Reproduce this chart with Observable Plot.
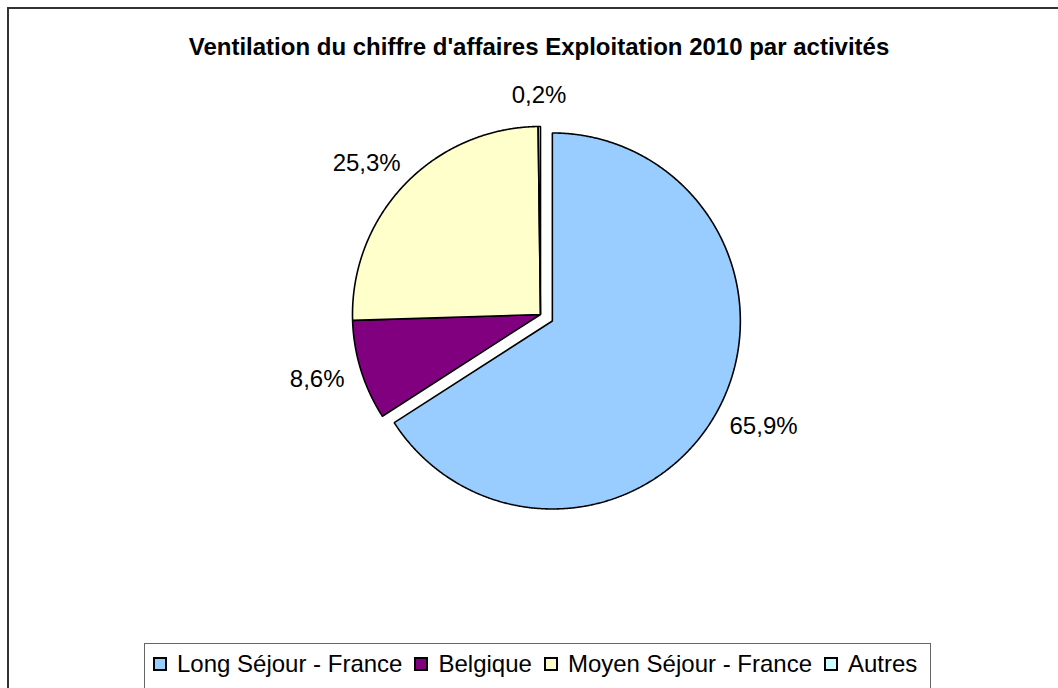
<!DOCTYPE html>
<html>
<head>
<meta charset="utf-8">
<script src="https://cdn.jsdelivr.net/npm/d3@7"></script>
<script src="https://cdn.jsdelivr.net/npm/@observablehq/plot@0.6"></script>
<style>
html, body { margin: 0; padding: 0; background: #fff; overflow: hidden; }
#root { position: relative; width: 1058px; height: 688px; overflow: hidden; font-family: "Liberation Sans", Arial, sans-serif; color: #000; }
#frame { position: absolute; left: 7px; top: 7px; width: 1100px; height: 760px; border: 2px solid #333; box-sizing: border-box; }
#title { position: absolute; left: 0; width: 1078px; top: 35px; text-align: center; font-weight: bold; font-size: 24px; line-height: 24px; white-space: nowrap; }
#chart { position: absolute; left: 240px; top: 64px; }
#legend { position: absolute; left: 144px; top: 643px; width: 787px; height: 70px; border: 1px solid #666; box-sizing: border-box; background: #fff;
  padding: 8px 0 0 8px; display: flex; flex-direction: row; align-items: flex-start; font-size: 24px; line-height: 24px; white-space: nowrap; }
#legend .item { display: flex; align-items: center; height: 24px; margin-right: 12px; }
#legend .sw { width: 14px; height: 14px; box-sizing: border-box; border: 2px solid #000; margin-right: 10px; flex: none; }
</style>
</head>
<body>
<div id="root">
  <div id="frame"></div>
  <div id="title"></div>
  <div id="chart"></div>
  <div id="legend"></div>
</div>
<script>
// ---- data ----
const titleText = "Ventilation du chiffre d'affaires Exploitation 2010 par activités";
const categories = ["Long Séjour - France", "Belgique", "Moyen Séjour - France", "Autres"];
const shares = [65.9, 8.6, 25.3, 0.2];
const shareLabels = ["65,9%", "8,6%", "25,3%", "0,2%"];
const colors = ["#99CCFF", "#800080", "#FFFFCC", "#CCFFFF"];
const explodedCategories = ["Long Séjour - France"];

// ---- layout constants ----
const W = 600, H = 500;          // svg size
const PX = 188;                  // pixels per radius unit
const R = 1;                     // pie radius (units)
const EXPLODE = 13.5 / PX;       // explode distance
const GAP = 19 / PX;             // label gap from pie edge
const FONT = 24;

document.getElementById("title").textContent = titleText;

// ---- pie geometry from data ----
const arcs = d3.pie().sort(null).value(d => d.v)(categories.map((c, i) => ({c, v: shares[i]})));
const slicePts = [];
const labelData = [];
arcs.forEach((p, i) => {
  const c = categories[i];
  const mid = (p.startAngle + p.endAngle) / 2;
  const off = explodedCategories.includes(c) ? EXPLODE : 0;
  const dx = Math.sin(mid), dy = Math.cos(mid);
  const cx = off * dx, cy = off * dy;
  slicePts.push({c, x: cx, y: cy});
  const n = Math.max(2, Math.ceil((p.endAngle - p.startAngle) / 0.005));
  for (let k = 0; k <= n; k++) {
    const a = p.startAngle + (p.endAngle - p.startAngle) * k / n;
    slicePts.push({c, x: cx + R * Math.sin(a), y: cy + R * Math.cos(a)});
  }
  // label: anchor on ring, box centre pushed out by half-size along direction
  const hw = shareLabels[i].length * 0.56 * FONT / 2 / PX;
  const hh = 12 / PX;
  const d = R + off + GAP;
  labelData.push({t: shareLabels[i], x: d * dx + hw * dx, y: d * dy + hh * dy});
});

const xr = W / 2 / PX, yr = H / 2 / PX;
const chart = Plot.plot({
  width: W, height: H,
  margin: 0,
  x: {domain: [-xr, xr], axis: null},
  y: {domain: [-yr, yr], axis: null},
  color: {type: "ordinal", domain: categories, range: colors},
  style: {background: "transparent", overflow: "visible"},
  marks: [
    Plot.line(slicePts, {x: "x", y: "y", z: "c", fill: "c", stroke: "#000", strokeWidth: 1.6, strokeLinejoin: "miter", curve: "linear-closed"}),
    Plot.text(labelData, {x: "x", y: "y", text: "t", fontSize: FONT, fontFamily: "Liberation Sans, Arial, sans-serif", fill: "#000", textAnchor: "middle", lineAnchor: "middle"})
  ]
});
document.getElementById("chart").appendChild(chart);

// ---- legend ----
const legend = document.getElementById("legend");
categories.forEach((c, i) => {
  const item = document.createElement("div");
  item.className = "item";
  const sw = document.createElement("span");
  sw.className = "sw";
  sw.style.background = colors[i];
  const tx = document.createElement("span");
  tx.textContent = c;
  item.appendChild(sw);
  item.appendChild(tx);
  legend.appendChild(item);
});
</script>
</body>
</html>
